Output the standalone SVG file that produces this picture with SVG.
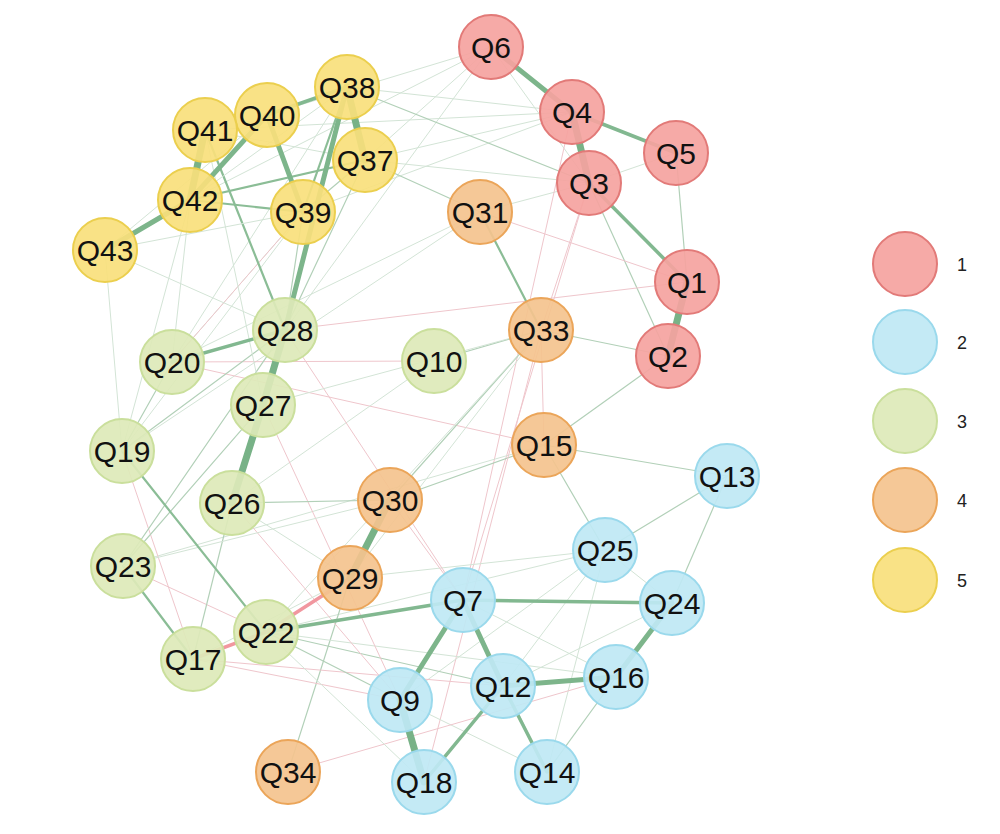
<svg xmlns="http://www.w3.org/2000/svg" width="1000" height="834" viewBox="0 0 1000 834">
<style>
text{font-family:"Liberation Sans",Arial,sans-serif;fill:#111;text-anchor:middle}
.lbl{font-size:30px}
.leg{font-size:18px;text-anchor:start;fill:#222}
line{stroke-linecap:round}
.p0{stroke:#d3e4d6;stroke-width:1}
.p1{stroke:#b2d0b8;stroke-width:1.2}
.p2{stroke:#8bbd96;stroke-width:2.2}
.p3{stroke:#82b890;stroke-width:3.5}
.p4{stroke:#7db58b;stroke-width:5}
.p5{stroke:#78b287;stroke-width:7}
.n1{stroke:#efc6cc;stroke-width:1}
.n2{stroke:#f1979f;stroke-width:3.5}
.c1 circle{fill:#f5a3a0;stroke:#e27a78;stroke-width:2}
.c2 circle{fill:#bfe8f4;stroke:#9ad9ec;stroke-width:2}
.c3 circle{fill:#dde9b8;stroke:#cadf9c;stroke-width:2}
.c4 circle{fill:#f4c38e;stroke:#eba559;stroke-width:2}
.c5 circle{fill:#f8e07c;stroke:#ebcf4e;stroke-width:2}
circle{fill-opacity:0.92}
</style>
<rect width="1000" height="834" fill="#fff"/>
<g id="edges">
<line class="p0" x1="491" y1="47" x2="190" y2="200"/>
<line class="p0" x1="491" y1="47" x2="267" y2="115"/>
<line class="p0" x1="491" y1="47" x2="285" y2="330"/>
<line class="p0" x1="491" y1="47" x2="365" y2="160"/>
<line class="p0" x1="491" y1="47" x2="589" y2="183"/>
<line class="p0" x1="572" y1="112" x2="347" y2="87"/>
<line class="p0" x1="572" y1="112" x2="303" y2="212"/>
<line class="p0" x1="572" y1="112" x2="205" y2="130"/>
<line class="p0" x1="572" y1="112" x2="365" y2="160"/>
<line class="p1" x1="589" y1="183" x2="347" y2="87"/>
<line class="p0" x1="589" y1="183" x2="365" y2="160"/>
<line class="p0" x1="589" y1="183" x2="480" y2="212"/>
<line class="p0" x1="589" y1="183" x2="676" y2="153"/>
<line class="p0" x1="572" y1="112" x2="676" y2="153"/>
<line class="n1" x1="589" y1="183" x2="541" y2="330"/>
<line class="n1" x1="589" y1="183" x2="463" y2="600"/>
<line class="n1" x1="572" y1="112" x2="463" y2="600"/>
<line class="p1" x1="589" y1="183" x2="668" y2="356"/>
<line class="p1" x1="676" y1="153" x2="687" y2="282"/>
<line class="n1" x1="480" y1="212" x2="687" y2="282"/>
<line class="n1" x1="285" y1="330" x2="687" y2="282"/>
<line class="p2" x1="480" y1="212" x2="541" y2="330"/>
<line class="p1" x1="480" y1="212" x2="365" y2="160"/>
<line class="p0" x1="480" y1="212" x2="172" y2="362"/>
<line class="p0" x1="480" y1="212" x2="122" y2="451"/>
<line class="p1" x1="541" y1="330" x2="668" y2="356"/>
<line class="p1" x1="434" y1="361" x2="541" y2="330"/>
<line class="n1" x1="172" y1="362" x2="434" y2="361"/>
<line class="n1" x1="541" y1="330" x2="544" y2="445"/>
<line class="n1" x1="172" y1="362" x2="544" y2="445"/>
<line class="p1" x1="544" y1="445" x2="668" y2="356"/>
<line class="p1" x1="544" y1="445" x2="727" y2="476"/>
<line class="p1" x1="544" y1="445" x2="605" y2="550"/>
<line class="p1" x1="544" y1="445" x2="390" y2="500"/>
<line class="p0" x1="544" y1="445" x2="123" y2="566"/>
<line class="p1" x1="541" y1="330" x2="390" y2="500"/>
<line class="p0" x1="541" y1="330" x2="350" y2="578"/>
<line class="p0" x1="541" y1="330" x2="266" y2="632"/>
<line class="n1" x1="541" y1="330" x2="424" y2="782"/>
<line class="p0" x1="434" y1="361" x2="232" y2="503"/>
<line class="p1" x1="727" y1="476" x2="605" y2="550"/>
<line class="p1" x1="727" y1="476" x2="672" y2="603"/>
<line class="p0" x1="605" y1="550" x2="672" y2="603"/>
<line class="p0" x1="605" y1="550" x2="503" y2="686"/>
<line class="p0" x1="605" y1="550" x2="547" y2="772"/>
<line class="p0" x1="605" y1="550" x2="400" y2="700"/>
<line class="p0" x1="605" y1="550" x2="350" y2="578"/>
<line class="p0" x1="605" y1="550" x2="266" y2="632"/>
<line class="p0" x1="672" y1="603" x2="503" y2="686"/>
<line class="p0" x1="463" y1="600" x2="616" y2="677"/>
<line class="p1" x1="616" y1="677" x2="547" y2="772"/>
<line class="p0" x1="463" y1="600" x2="547" y2="772"/>
<line class="p0" x1="400" y1="700" x2="547" y2="772"/>
<line class="n1" x1="288" y1="772" x2="616" y2="677"/>
<line class="p1" x1="288" y1="772" x2="350" y2="578"/>
<line class="n1" x1="193" y1="659" x2="400" y2="700"/>
<line class="n1" x1="193" y1="659" x2="503" y2="686"/>
<line class="p1" x1="266" y1="632" x2="400" y2="700"/>
<line class="p1" x1="266" y1="632" x2="503" y2="686"/>
<line class="p0" x1="266" y1="632" x2="616" y2="677"/>
<line class="p0" x1="266" y1="632" x2="424" y2="782"/>
<line class="n1" x1="390" y1="500" x2="463" y2="600"/>
<line class="n1" x1="285" y1="330" x2="463" y2="600"/>
<line class="n1" x1="263" y1="405" x2="400" y2="700"/>
<line class="n1" x1="232" y1="503" x2="400" y2="700"/>
<line class="n1" x1="123" y1="566" x2="266" y2="632"/>
<line class="n1" x1="122" y1="451" x2="193" y2="659"/>
<line class="p1" x1="232" y1="503" x2="390" y2="500"/>
<line class="p0" x1="232" y1="503" x2="350" y2="578"/>
<line class="p1" x1="193" y1="659" x2="232" y2="503"/>
<line class="p0" x1="193" y1="659" x2="350" y2="578"/>
<line class="p2" x1="123" y1="566" x2="193" y2="659"/>
<line class="p1" x1="123" y1="566" x2="285" y2="330"/>
<line class="p1" x1="123" y1="566" x2="263" y2="405"/>
<line class="p0" x1="123" y1="566" x2="390" y2="500"/>
<line class="p2" x1="122" y1="451" x2="266" y2="632"/>
<line class="p1" x1="122" y1="451" x2="172" y2="362"/>
<line class="p1" x1="122" y1="451" x2="285" y2="330"/>
<line class="p0" x1="122" y1="451" x2="105" y2="250"/>
<line class="p0" x1="122" y1="451" x2="190" y2="200"/>
<line class="p0" x1="122" y1="451" x2="303" y2="212"/>
<line class="p0" x1="172" y1="362" x2="190" y2="200"/>
<line class="p0" x1="172" y1="362" x2="303" y2="212"/>
<line class="p0" x1="172" y1="362" x2="347" y2="87"/>
<line class="n1" x1="172" y1="362" x2="303" y2="212"/>
<line class="p0" x1="263" y1="405" x2="205" y2="130"/>
<line class="p0" x1="263" y1="405" x2="541" y2="330"/>
<line class="p1" x1="285" y1="330" x2="303" y2="212"/>
<line class="p1" x1="285" y1="330" x2="365" y2="160"/>
<line class="p2" x1="285" y1="330" x2="205" y2="130"/>
<line class="p0" x1="285" y1="330" x2="105" y2="250"/>
<line class="p2" x1="303" y1="212" x2="190" y2="200"/>
<line class="p2" x1="365" y1="160" x2="190" y2="200"/>
<line class="p1" x1="365" y1="160" x2="303" y2="212"/>
<line class="p0" x1="105" y1="250" x2="303" y2="212"/>
<line class="p0" x1="105" y1="250" x2="267" y2="115"/>
<line class="p0" x1="190" y1="200" x2="347" y2="87"/>
<line class="p0" x1="205" y1="130" x2="365" y2="160"/>
<line class="p4" x1="491" y1="47" x2="572" y2="112"/>
<line class="p5" x1="572" y1="112" x2="589" y2="183"/>
<line class="p3" x1="572" y1="112" x2="676" y2="153"/>
<line class="p3" x1="589" y1="183" x2="687" y2="282"/>
<line class="p5" x1="687" y1="282" x2="668" y2="356"/>
<line class="p3" x1="463" y1="600" x2="672" y2="603"/>
<line class="p4" x1="463" y1="600" x2="400" y2="700"/>
<line class="p4" x1="463" y1="600" x2="503" y2="686"/>
<line class="p4" x1="503" y1="686" x2="616" y2="677"/>
<line class="p4" x1="616" y1="677" x2="672" y2="603"/>
<line class="p5" x1="400" y1="700" x2="424" y2="782"/>
<line class="p3" x1="503" y1="686" x2="424" y2="782"/>
<line class="p3" x1="503" y1="686" x2="547" y2="772"/>
<line class="p3" x1="463" y1="600" x2="266" y2="632"/>
<line class="n2" x1="266" y1="632" x2="193" y2="659"/>
<line class="n2" x1="266" y1="632" x2="350" y2="578"/>
<line class="p5" x1="390" y1="500" x2="350" y2="578"/>
<line class="p5" x1="232" y1="503" x2="263" y2="405"/>
<line class="p5" x1="263" y1="405" x2="285" y2="330"/>
<line class="p4" x1="285" y1="330" x2="347" y2="87"/>
<line class="p3" x1="172" y1="362" x2="285" y2="330"/>
<line class="p5" x1="347" y1="87" x2="365" y2="160"/>
<line class="p4" x1="267" y1="115" x2="303" y2="212"/>
<line class="p3" x1="267" y1="115" x2="347" y2="87"/>
<line class="p4" x1="267" y1="115" x2="190" y2="200"/>
<line class="p5" x1="205" y1="130" x2="190" y2="200"/>
<line class="p4" x1="190" y1="200" x2="105" y2="250"/>
<line class="p2" x1="347" y1="87" x2="303" y2="212"/>
</g>
<g id="Q6" class="c1"><circle cx="491" cy="47" r="32"/><text class="lbl" x="491" y="58">Q6</text></g>
<g id="Q4" class="c1"><circle cx="572" cy="112" r="32"/><text class="lbl" x="572" y="123">Q4</text></g>
<g id="Q5" class="c1"><circle cx="676" cy="153" r="32"/><text class="lbl" x="676" y="164">Q5</text></g>
<g id="Q3" class="c1"><circle cx="589" cy="183" r="32"/><text class="lbl" x="589" y="194">Q3</text></g>
<g id="Q1" class="c1"><circle cx="687" cy="282" r="32"/><text class="lbl" x="687" y="293">Q1</text></g>
<g id="Q2" class="c1"><circle cx="668" cy="356" r="32"/><text class="lbl" x="668" y="367">Q2</text></g>
<g id="Q31" class="c4"><circle cx="480" cy="212" r="32"/><text class="lbl" x="480" y="223">Q31</text></g>
<g id="Q33" class="c4"><circle cx="541" cy="330" r="32"/><text class="lbl" x="541" y="341">Q33</text></g>
<g id="Q15" class="c4"><circle cx="544" cy="445" r="32"/><text class="lbl" x="544" y="456">Q15</text></g>
<g id="Q30" class="c4"><circle cx="390" cy="500" r="32"/><text class="lbl" x="390" y="511">Q30</text></g>
<g id="Q29" class="c4"><circle cx="350" cy="578" r="32"/><text class="lbl" x="350" y="589">Q29</text></g>
<g id="Q34" class="c4"><circle cx="288" cy="772" r="32"/><text class="lbl" x="288" y="783">Q34</text></g>
<g id="Q10" class="c3"><circle cx="434" cy="361" r="32"/><text class="lbl" x="434" y="372">Q10</text></g>
<g id="Q28" class="c3"><circle cx="285" cy="330" r="32"/><text class="lbl" x="285" y="341">Q28</text></g>
<g id="Q20" class="c3"><circle cx="172" cy="362" r="32"/><text class="lbl" x="172" y="373">Q20</text></g>
<g id="Q27" class="c3"><circle cx="263" cy="405" r="32"/><text class="lbl" x="263" y="416">Q27</text></g>
<g id="Q19" class="c3"><circle cx="122" cy="451" r="32"/><text class="lbl" x="122" y="462">Q19</text></g>
<g id="Q26" class="c3"><circle cx="232" cy="503" r="32"/><text class="lbl" x="232" y="514">Q26</text></g>
<g id="Q23" class="c3"><circle cx="123" cy="566" r="32"/><text class="lbl" x="123" y="577">Q23</text></g>
<g id="Q22" class="c3"><circle cx="266" cy="632" r="32"/><text class="lbl" x="266" y="643">Q22</text></g>
<g id="Q17" class="c3"><circle cx="193" cy="659" r="32"/><text class="lbl" x="193" y="670">Q17</text></g>
<g id="Q13" class="c2"><circle cx="727" cy="476" r="32"/><text class="lbl" x="727" y="487">Q13</text></g>
<g id="Q25" class="c2"><circle cx="605" cy="550" r="32"/><text class="lbl" x="605" y="561">Q25</text></g>
<g id="Q24" class="c2"><circle cx="672" cy="603" r="32"/><text class="lbl" x="672" y="614">Q24</text></g>
<g id="Q7" class="c2"><circle cx="463" cy="600" r="32"/><text class="lbl" x="463" y="611">Q7</text></g>
<g id="Q16" class="c2"><circle cx="616" cy="677" r="32"/><text class="lbl" x="616" y="688">Q16</text></g>
<g id="Q12" class="c2"><circle cx="503" cy="686" r="32"/><text class="lbl" x="503" y="697">Q12</text></g>
<g id="Q9" class="c2"><circle cx="400" cy="700" r="32"/><text class="lbl" x="400" y="711">Q9</text></g>
<g id="Q14" class="c2"><circle cx="547" cy="772" r="32"/><text class="lbl" x="547" y="783">Q14</text></g>
<g id="Q18" class="c2"><circle cx="424" cy="782" r="32"/><text class="lbl" x="424" y="793">Q18</text></g>
<g id="Q38" class="c5"><circle cx="347" cy="87" r="32"/><text class="lbl" x="347" y="98">Q38</text></g>
<g id="Q40" class="c5"><circle cx="267" cy="115" r="32"/><text class="lbl" x="267" y="126">Q40</text></g>
<g id="Q41" class="c5"><circle cx="205" cy="130" r="32"/><text class="lbl" x="205" y="141">Q41</text></g>
<g id="Q37" class="c5"><circle cx="365" cy="160" r="32"/><text class="lbl" x="365" y="171">Q37</text></g>
<g id="Q42" class="c5"><circle cx="190" cy="200" r="32"/><text class="lbl" x="190" y="211">Q42</text></g>
<g id="Q39" class="c5"><circle cx="303" cy="212" r="32"/><text class="lbl" x="303" y="223">Q39</text></g>
<g id="Q43" class="c5"><circle cx="105" cy="250" r="32"/><text class="lbl" x="105" y="261">Q43</text></g>
<g id="legend">
<g class="c1"><circle cx="905" cy="264" r="32"/></g><text class="leg" x="957" y="271">1</text>
<g class="c2"><circle cx="905" cy="342" r="32"/></g><text class="leg" x="957" y="349">2</text>
<g class="c3"><circle cx="905" cy="421" r="32"/></g><text class="leg" x="957" y="428">3</text>
<g class="c4"><circle cx="905" cy="500" r="32"/></g><text class="leg" x="957" y="507">4</text>
<g class="c5"><circle cx="905" cy="580" r="32"/></g><text class="leg" x="957" y="587">5</text>
</g>
</svg>
